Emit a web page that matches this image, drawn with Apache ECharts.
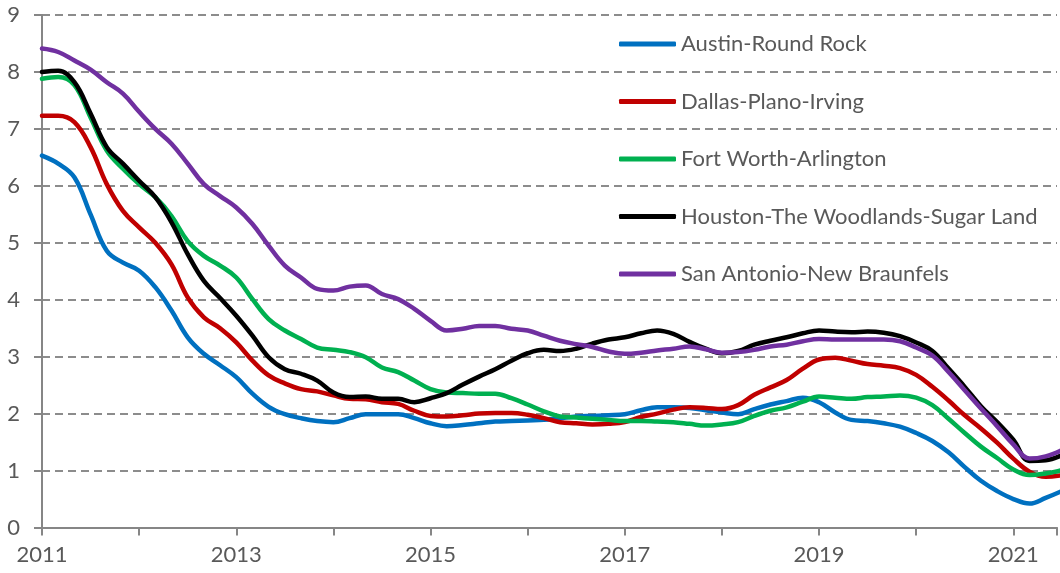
<!DOCTYPE html>
<html>
<head>
<meta charset="utf-8">
<script src="https://cdn.jsdelivr.net/npm/echarts@6/dist/echarts.min.js"></script>
<style>
  html, body { margin: 0; padding: 0; background: #fff; }
  #chart { width: 1060px; height: 573px; }
</style>
</head>
<body>
<div id="chart"></div>
<script>
// bi-monthly samples, Jan 2011 .. Jul 2021
const months = [];
for (let y = 2011; y <= 2021; y++) {
  for (const m of [1, 3, 5, 7, 9, 11]) months.push(y + '-' + String(m).padStart(2, '0'));
}
months.length = 64;

const names = [
  'Austin-Round Rock',
  'Dallas-Plano-Irving',
  'Fort Worth-Arlington',
  'Houston-The Woodlands-Sugar Land',
  'San Antonio-New Braunfels'
];
const colors = ['#0070C0', '#C00000', '#00B050', '#000000', '#7030A0'];

const austin = [
  6.53, 6.39, 6.15, 5.5, 4.86, 4.65, 4.51, 4.22, 3.81, 3.34, 3.05, 2.85,
  2.64, 2.35, 2.12, 1.99, 1.92, 1.87, 1.85, 1.92, 1.99, 1.99,
  1.99, 1.92, 1.83, 1.78, 1.8, 1.83, 1.86, 1.87, 1.88, 1.89, 1.92,
  1.95, 1.96, 1.97, 1.99, 2.06, 2.11, 2.11, 2.1, 2.06, 2.02, 1.99,
  2.08, 2.16, 2.22, 2.28, 2.2, 2.02, 1.89, 1.87, 1.83, 1.77, 1.66,
  1.52, 1.32, 1.06, 0.82, 0.64, 0.5, 0.42, 0.52, 0.64
];
const dallas = [
  7.23, 7.23, 7.12, 6.68, 6.03, 5.56, 5.27, 5.0, 4.62, 4.04, 3.69, 3.5,
  3.25, 2.93, 2.67, 2.53, 2.43, 2.39, 2.32, 2.26, 2.25, 2.2,
  2.17, 2.05, 1.96, 1.95, 1.97, 2.0, 2.01, 2.01, 1.98, 1.92, 1.85,
  1.83, 1.81, 1.82, 1.85, 1.94, 2.0, 2.07, 2.11, 2.1, 2.08, 2.15,
  2.33, 2.46, 2.59, 2.79, 2.95, 2.98, 2.93, 2.87, 2.84, 2.8, 2.68,
  2.47, 2.23, 1.97, 1.74, 1.49, 1.21, 0.98, 0.89, 0.92
];
const fortWorth = [
  7.88, 7.91, 7.77, 7.2, 6.62, 6.3, 6.03, 5.8, 5.47, 5.03, 4.77, 4.6,
  4.39, 4.01, 3.66, 3.46, 3.31, 3.16, 3.12, 3.08, 2.99, 2.81,
  2.73, 2.58, 2.43, 2.37, 2.36, 2.35, 2.35, 2.27, 2.16, 2.04, 1.95,
  1.93, 1.91, 1.89, 1.87, 1.87, 1.86, 1.85, 1.82, 1.79, 1.81, 1.85,
  1.96, 2.05, 2.11, 2.21, 2.3, 2.28, 2.26, 2.29, 2.3, 2.32, 2.28,
  2.15, 1.91, 1.66, 1.42, 1.22, 1.02, 0.92, 0.95, 1.01
];
const houston = [
  8.0, 8.02, 7.82, 7.27, 6.68, 6.39, 6.09, 5.8, 5.36, 4.8, 4.33, 4.03,
  3.72, 3.37, 2.99, 2.78, 2.7, 2.58, 2.37, 2.29, 2.3, 2.26,
  2.26, 2.2, 2.27, 2.36, 2.51, 2.65, 2.78, 2.93, 3.06, 3.12, 3.1,
  3.14, 3.23, 3.3, 3.34, 3.41, 3.46, 3.4, 3.26, 3.14, 3.06, 3.1,
  3.21, 3.28, 3.34, 3.41, 3.46, 3.44, 3.43, 3.44, 3.42, 3.36, 3.25,
  3.1, 2.79, 2.47, 2.13, 1.85, 1.54, 1.17, 1.18, 1.27
];
const sanAntonio = [
  8.41, 8.35, 8.2, 8.04, 7.82, 7.62, 7.3, 7.0, 6.74, 6.39, 6.03, 5.82,
  5.62, 5.33, 4.95, 4.6, 4.39, 4.19, 4.16, 4.23, 4.25, 4.1,
  4.01, 3.84, 3.63, 3.46, 3.49, 3.54, 3.54, 3.49, 3.46, 3.37, 3.28,
  3.22, 3.17, 3.09, 3.05, 3.07, 3.11, 3.14, 3.18, 3.13, 3.07, 3.08,
  3.12, 3.18, 3.21, 3.27, 3.31, 3.3, 3.3, 3.3, 3.3, 3.27, 3.16,
  3.02, 2.73, 2.41, 2.09, 1.78, 1.46, 1.21, 1.25, 1.36
];
const allSeries = [austin, dallas, fortWorth, houston, sanAntonio];

// 'YYYY-MM' -> decimal year
const toYear = s => {
  const [y, m] = s.split('-').map(Number);
  return y + (m - 1) / 12;
};

const textColor = '#595959';
const fontFamily = 'Lato, "Open Sans", sans-serif';

const chart = echarts.init(document.getElementById('chart'));
chart.setOption({
  animation: false,
  grid: { left: 42, right: 0, top: 15, bottom: 45.5 },
  legend: {
    orient: 'vertical',
    left: 619,
    top: 32,
    padding: 0,
    icon: 'roundRect',
    itemWidth: 57,
    itemHeight: 5,
    itemGap: 33.5,
    textStyle: { color: textColor, fontSize: 22, fontFamily: fontFamily, lineHeight: 24 },
    data: names
  },
  xAxis: {
    type: 'value',
    min: 2011,
    max: 2021.45,
    interval: 1,
    axisLine: { show: true, lineStyle: { color: '#868686', width: 2 } },
    axisTick: { show: true, length: 8, lineStyle: { color: '#868686', width: 2 } },
    axisLabel: {
      color: textColor,
      fontSize: 22,
      fontFamily: fontFamily,
      margin: 16,
      formatter: v => (Number.isInteger(v) && v % 2 === 1 ? String(v) : '')
    },
    splitLine: { show: false }
  },
  yAxis: {
    type: 'value',
    min: 0,
    max: 9,
    interval: 1,
    axisLine: { show: true, lineStyle: { color: '#868686', width: 2 } },
    axisTick: { show: true, length: 8, lineStyle: { color: '#868686', width: 2 } },
    axisLabel: { color: textColor, fontSize: 22, fontFamily: fontFamily, margin: 22 },
    splitLine: { show: true, lineStyle: { color: '#8c8c8c', width: 2, type: [8, 5] } }
  },
  series: allSeries.map((vals, k) => ({
    name: names[k],
    type: 'line',
    smooth: 0.4,
    symbol: 'none',
    clip: true,
    color: colors[k],
    lineStyle: { color: colors[k], width: 4.5, cap: 'round', join: 'round' },
    data: vals.map((v, i) => [toYear(months[i]), v])
  }))
});
</script>
</body>
</html>
